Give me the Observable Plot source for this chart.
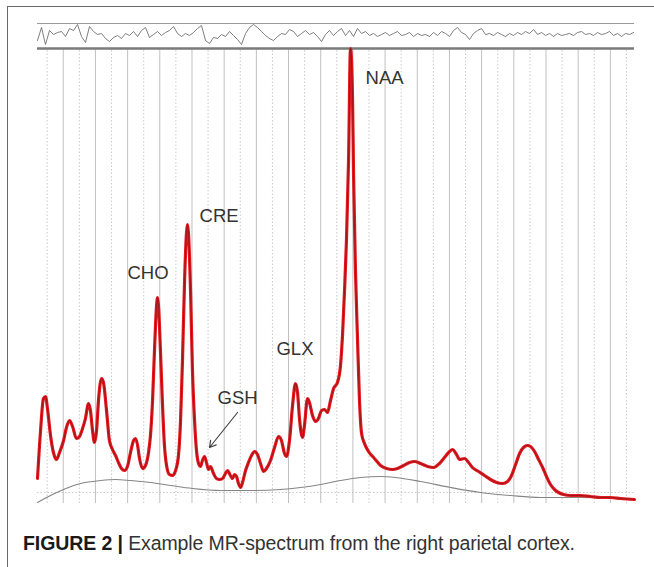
<!DOCTYPE html>
<html>
<head>
<meta charset="utf-8">
<script src="https://cdn.jsdelivr.net/npm/d3@7"></script>
<script src="https://cdn.jsdelivr.net/npm/@observablehq/plot@0.6"></script>
<style>
  html, body { margin: 0; padding: 0; background: #fff; }
  body { width: 654px; height: 567px; position: relative; overflow: hidden; font-family: "Liberation Sans", Arial, sans-serif; }
  #frame { position: absolute; left: 7px; top: 6px; right: -10px; bottom: -10px; border-left: 1.5px solid #6a6a6a; border-top: 1.5px solid #6a6a6a; }
  #chart { position: absolute; left: 0; top: 0; }
  #caption { position: absolute; left: 23px; top: 532px; font-size: 19.5px; color: #333; white-space: nowrap; letter-spacing: -0.1px; }
  #caption b { color: #1a1a1a; }
</style>
</head>
<body>
<div id="frame"></div>
<div id="chart"></div>
<div id="caption"><b>FIGURE 2 |</b> Example MR-spectrum from the right parietal cortex.</div>
<script>
// Chemical shift (ppm) and amplitude (a.u.) of the fitted spectrum (red)
const fitPpm = [3.960,3.941,3.923,3.910,3.898,3.879,3.861,3.842,3.823,3.798,3.780,3.761,3.742,3.718,3.699,3.680,3.662,3.643,3.631,3.618,3.606,3.593,3.581,3.562,3.550,3.531,3.513,3.494,3.475,3.457,3.438,3.419,3.401,3.382,3.363,3.351,3.339,3.326,3.307,3.289,3.270,3.258,3.245,3.233,3.220,3.214,3.208,3.196,3.183,3.171,3.158,3.140,3.121,3.102,3.084,3.071,3.059,3.046,3.034,3.028,3.022,3.009,2.997,2.984,2.972,2.959,2.947,2.935,2.922,2.910,2.897,2.885,2.866,2.848,2.829,2.810,2.792,2.779,2.761,2.748,2.736,2.723,2.711,2.698,2.686,2.667,2.649,2.630,2.611,2.593,2.574,2.555,2.537,2.512,2.487,2.462,2.444,2.425,2.413,2.394,2.375,2.357,2.344,2.332,2.313,2.301,2.282,2.270,2.251,2.232,2.214,2.195,2.176,2.158,2.139,2.120,2.096,2.077,2.064,2.052,2.040,2.027,2.015,2.002,1.996,1.984,1.971,1.959,1.946,1.928,1.903,1.866,1.828,1.791,1.754,1.723,1.685,1.648,1.617,1.580,1.536,1.499,1.462,1.431,1.399,1.381,1.356,1.337,1.306,1.281,1.257,1.219,1.182,1.145,1.107,1.070,1.039,1.014,0.989,0.964,0.940,0.915,0.896,0.871,0.846,0.821,0.797,0.772,0.747,0.722,0.691,0.647,0.585,0.523,0.461,0.399,0.337,0.250];
const fitAmp = [14,62,94,96,84,57,40,33,40,52,65,72,66,54,56,64,74,89,82,62,50,62,92,114,110,82,52,43,37,30,24,22,26,40,52,54,48,34,24,27,40,57,92,142,187,195,187,142,87,47,27,18,17,22,37,72,132,212,260,268,260,202,122,72,42,29,26,32,36,30,23,26,19,14,13,14,19,22,17,14,18,16,9,5,10,22,30,37,41,38,29,21,24,32,45,56,52,39,36,52,87,109,100,74,55,67,94,90,77,71,74,82,83,80,92,104,110,127,159,202,252,332,444,392,319,222,152,92,59,49,41,34,27,24,23,24,27,30,31,29,26,25,29,35,41,43,38,33,34,30,25,21,17,13,10,9,11,17,28,39,45,47,46,41,33,25,16,8,3,0,-2,-3,-3,-4,-5,-5,-6,-7];

// Fitted baseline (grey)
const basePpm = [3.960,3.879,3.798,3.693,3.568,3.475,3.382,3.258,3.133,2.997,2.823,2.636,2.450,2.325,2.201,2.077,1.953,1.828,1.735,1.580,1.393,1.207,1.020,0.834,0.585,0.250];
const baseAmp = [-10,-3,3,9,12,13,12,10,7,4,2,2,3,5,8,12,15,16,15,11,5,0,-3,-5,-5,-6];

// Fit residual, sampled evenly from 3.96 ppm downwards
const residualStart = 3.96;
const residualStep = 0.02486;
const residual = [-5,8,-9,5,1,3,4,-1,7,5,11,-1,-7,9,4,1,2,-3,-6,-2,0,-3,2,0,4,-1,5,8,-2,1,4,0,3,5,9,2,-1,2,0,3,7,10,-5,-8,-2,-3,1,-1,4,0,-4,-9,2,8,11,8,4,0,-3,-5,-1,2,1,6,4,-1,2,5,1,3,-1,-6,1,5,0,4,7,0,5,-1,7,2,4,0,2,-1,1,3,0,2,4,0,1,3,-1,2,0,1,-1,3,0,4,2,-1,5,8,3,1,-4,2,5,7,1,2,0,3,1,-1,2,0,3,1,4,2,6,1,3,0,2,-1,2,0,1,2,0,3,4,1,2,0,3,1,2,4,0,2,-1,2,1,3];

// Grid ticks (ppm)
const majorTicks = [3.8,3.6,3.4,3.2,3.0,2.8,2.6,2.4,2.2,2.0,1.8,1.6,1.4,1.2,1.0,0.8,0.6,0.4];
const minorTicks = [3.9,3.7,3.5,3.3,3.1,2.9,2.7,2.5,2.3,2.1,1.9,1.7,1.5,1.3,1.1,0.9,0.7,0.5,0.3];

// Panel levels (a.u.)
const ampMin = -11;
const mainTop = 444;
const residualTop = 469;
const residualCenter = 457;

// Metabolite labels
const labelNames = ["CHO","CRE","GSH","GLX","NAA"];
const labelPpm = [3.401,2.953,2.841,2.475,1.921];
const labelAmp = [214,271,89,138,409];
const gshArrow = {ppm1: 2.717, amp1: 80, ppm2: 2.891, amp2: 45};

const fit = fitPpm.map((p, i) => ({ppm: p, amp: fitAmp[i]}));
const base = basePpm.map((p, i) => ({ppm: p, amp: baseAmp[i]}));
const res = residual.map((r, i) => ({ppm: residualStart - i * residualStep, amp: residualCenter + r}));
const labels = labelNames.map((n, i) => ({name: n, ppm: labelPpm[i], amp: labelAmp[i]}));

const chart = Plot.plot({
  width: 654,
  height: 520,
  marginLeft: 37,
  marginRight: 20,
  marginTop: 23,
  marginBottom: 17,
  style: {background: "transparent", fontFamily: "'Liberation Sans', Arial, sans-serif"},
  x: {domain: [3.96, 0.25], axis: null},
  y: {domain: [ampMin, residualTop], axis: null},
  marks: [
    Plot.ruleX(minorTicks, {y1: ampMin, y2: mainTop, stroke: "#bdbdbd", strokeWidth: 0.8, strokeDasharray: "1.5,2"}),
    Plot.ruleX(majorTicks, {y1: ampMin, y2: mainTop, stroke: "#c0c0c0", strokeWidth: 1}),
    Plot.ruleY([0], {stroke: "#bdbdbd", strokeWidth: 0.8, strokeDasharray: "1.5,2"}),
    Plot.ruleY([residualTop], {stroke: "#9a9a9a", strokeWidth: 1}),
    Plot.line(res, {x: "ppm", y: "amp", stroke: "#5e5e5e", strokeWidth: 0.8}),
    Plot.ruleY([mainTop], {stroke: "#7a7a7a", strokeWidth: 2.5}),
    Plot.line(base, {x: "ppm", y: "amp", stroke: "#858585", strokeWidth: 1.1, curve: "monotone-x"}),
    Plot.line(fit, {x: "ppm", y: "amp", stroke: "#e3191f", strokeWidth: 3.2, curve: "monotone-x"}),
    Plot.line(fit, {x: "ppm", y: "amp", stroke: "#7a1212", strokeWidth: 0.9, strokeOpacity: 0.75, curve: "monotone-x"}),
    Plot.arrow([gshArrow], {x1: "ppm1", y1: "amp1", x2: "ppm2", y2: "amp2", stroke: "#444", strokeWidth: 1.2, headLength: 9}),
    Plot.text(labels, {x: "ppm", y: "amp", text: "name", textAnchor: "start", lineAnchor: "bottom", fontSize: 18.5, fill: "#333"})
  ]
});
document.getElementById("chart").appendChild(chart);
</script>
</body>
</html>
